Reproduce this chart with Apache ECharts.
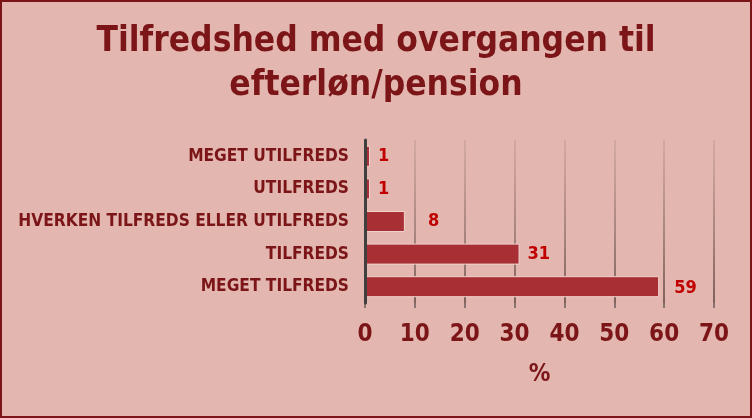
<!DOCTYPE html>
<html><head><meta charset="utf-8">
<script src="https://cdn.jsdelivr.net/npm/echarts@6/dist/echarts.min.js"></script>
<style>
html,body{margin:0;padding:0;background:#E3B7AF;}
#c{width:752px;height:418px;box-sizing:border-box;border:2px solid #7B1518;}
</style></head>
<body><div id="c"></div>
<script>
const categories = ['MEGET UTILFREDS','UTILFREDS','HVERKEN TILFREDS ELLER UTILFREDS','TILFREDS','MEGET TILFREDS'];
const values = [1, 1, 8, 31, 59];
const labelGaps = [8, 8, 23, 8, 15];
const xTicks = [0, 10, 20, 30, 40, 50, 60, 70];

const chart = echarts.init(document.getElementById('c'), null, {renderer:'canvas'});
const font = '"Liberation Sans Narrow","DejaVu Sans Condensed","Open Sans",sans-serif';
const red = '#7B1518';
chart.setOption({
  backgroundColor: '#E3B7AF',
  animation: false,
  title: {
    text: 'Tilfredshed med overgangen til\nefterløn/pension',
    left: 'center', top: 13,
    textStyle: {fontFamily: font, fontWeight: 'bold', fontSize: 35, color: red, lineHeight: 44}
  },
  grid: {left: 363, right: 36, top: 138, bottom: 113},
  xAxis: {
    type: 'value', min: 0, max: 70, interval: 10,
    name: '%', nameLocation: 'middle', nameGap: 60,
    nameTextStyle: {fontFamily: font, fontWeight: 'bold', fontSize: 24, color: red},
    axisLabel: {fontFamily: font, fontWeight: 'bold', fontSize: 24, color: red, margin: 20,
      formatter: v => xTicks.includes(v) ? String(v) : ''},
    axisLine: {show: false},
    axisTick: {show: true, length: 5, lineStyle: {color: '#8a7470', width: 2}},
    splitLine: {show: true, lineStyle: {width: 2, color: new echarts.graphic.LinearGradient(0,0,0,1,[
      {offset:0, color:'rgba(150,120,115,0.2)'},{offset:1, color:'rgba(120,90,85,0.95)'}])}}
  },
  yAxis: {
    type: 'category', data: categories, inverse: true, z: 5,
    axisLine: {show: true, lineStyle: {color: '#404040', width: 3}},
    axisTick: {show: false},
    axisLabel: {fontFamily: font, fontWeight: 'bold', fontSize: 17.2, color: red, margin: 16}
  },
  series: [{
    type: 'bar',
    data: values.map((v, i) => ({value: v, label: {distance: labelGaps[i], offset: i === 4 ? [0, 2] : [0, 0]}})),
    barWidth: 21,
    itemStyle: {color: '#A83034', borderColor: '#F2D3CE', borderWidth: 1},
    label: {show: true, position: 'right', fontFamily: font, fontWeight: 'bold', fontSize: 18, color: '#C00000'}
  }]
});
</script></body></html>
